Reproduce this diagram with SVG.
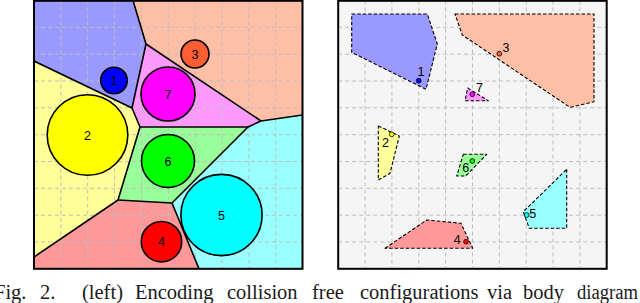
<svg xmlns="http://www.w3.org/2000/svg" width="640" height="303" viewBox="0 0 640 303">
<defs>
<style>
.grid{stroke:#bdbdbd;stroke-width:1;stroke-dasharray:4 3;fill:none}
.reg{stroke:#000;stroke-width:1.6;stroke-linejoin:round}
.circ{stroke:#000;stroke-width:1.6}
.lab{font-family:"Liberation Sans",Arial,sans-serif;font-size:12.5px;fill:#000}
.poly{stroke:#000;stroke-width:1.1;stroke-dasharray:3.5 2;stroke-linejoin:round}
.pt{stroke:#000;stroke-width:0.8}
.frame{fill:none;stroke:#000;stroke-width:2}
.cap{font-family:"Liberation Serif","Times New Roman",serif;font-size:20.5px;fill:#1a1a1a}
</style>
<clipPath id="clipL"><rect x="34" y="0.5" width="268.5" height="268.3"/></clipPath>
</defs>
<rect width="640" height="303" fill="#fff"/>

<!-- LEFT PANEL -->
<g id="left-panel">
<g id="regions-fill" clip-path="url(#clipL)">
<polygon fill="#9999ff" points="34,0.5 133,0.5 146,44 132,108 34,61"/>
<polygon fill="#ffbfa6" points="133,0.5 302.5,0.5 302.5,115 261,121 146,44"/>
<polygon fill="#ff99ff" points="146,44 261,121 248,127 140,127 132,108"/>
<polygon fill="#ffff99" points="34,61 132,108 140,127 118,200 34,257"/>
<polygon fill="#99ff99" points="140,127 248,127 172,203 118,200"/>
<polygon fill="#99ffff" points="248,127 261,121 302.5,115 302.5,268.8 199,268.8 172,203"/>
<polygon fill="#ff9999" points="34,257 118,200 172,203 199,268.8 34,268.8"/>
</g>
<g id="grid-left" class="grid">
<path d="M60.9,0.5V268.8M87.7,0.5V268.8M114.6,0.5V268.8M141.4,0.5V268.8M168.3,0.5V268.8M195.1,0.5V268.8M222,0.5V268.8M248.8,0.5V268.8M275.7,0.5V268.8"/>
<path d="M34,27.3H302.5M34,54.2H302.5M34,81H302.5M34,107.8H302.5M34,134.7H302.5M34,161.5H302.5M34,188.3H302.5M34,215.2H302.5M34,242H302.5"/>
</g>
<g id="region-boundaries" fill="none" class="reg" clip-path="url(#clipL)">
<polyline points="133,0.5 146,44 132,108 34,61"/>
<polyline points="146,44 261,121 302.5,115"/>
<polyline points="132,108 140,127 248,127 261,121"/>
<polyline points="140,127 118,200 34,257"/>
<polyline points="248,127 172,203 118,200"/>
<polyline points="172,203 199,268.8"/>
</g>
<g id="c1"><circle class="circ" cx="114" cy="80.5" r="13.3" fill="#0000ff"/><text class="lab" x="114" y="85" text-anchor="middle">1</text></g>
<g id="c3"><circle class="circ" cx="195" cy="54" r="14" fill="#ff5e33"/><text class="lab" x="195" y="58.5" text-anchor="middle">3</text></g>
<g id="c7"><circle class="circ" cx="168" cy="94" r="27" fill="#ff00ff"/><text class="lab" x="168" y="98.5" text-anchor="middle">7</text></g>
<g id="c2"><circle class="circ" cx="87.5" cy="135" r="40.3" fill="#ffff00"/><text class="lab" x="87.5" y="139.5" text-anchor="middle">2</text></g>
<g id="c6"><circle class="circ" cx="168" cy="161" r="26.5" fill="#00ff00"/><text class="lab" x="168" y="165.5" text-anchor="middle">6</text></g>
<g id="c5"><circle class="circ" cx="221.5" cy="215" r="40.6" fill="#00ffff"/><text class="lab" x="221.5" y="219.5" text-anchor="middle">5</text></g>
<g id="c4"><circle class="circ" cx="161.5" cy="241.7" r="20.2" fill="#ff0000"/><text class="lab" x="161.5" y="246.2" text-anchor="middle">4</text></g>
<rect class="frame" x="34" y="0.8" width="268.5" height="268"/>
</g>

<!-- RIGHT PANEL -->
<g id="right-panel">
<rect x="338.2" y="0.8" width="268.5" height="268" fill="#f5f5f5"/>
<g id="grid-right" class="grid">
<path d="M365.1,0.5V268.8M391.9,0.5V268.8M418.8,0.5V268.8M445.6,0.5V268.8M472.5,0.5V268.8M499.3,0.5V268.8M526.2,0.5V268.8M553,0.5V268.8M579.9,0.5V268.8"/>
<path d="M338.2,27.3H606.7M338.2,54.2H606.7M338.2,81H606.7M338.2,107.8H606.7M338.2,134.7H606.7M338.2,161.5H606.7M338.2,188.3H606.7M338.2,215.2H606.7M338.2,242H606.7"/>
</g>
<g id="b1"><polygon class="poly" fill="#9999ff" points="351.7,14 427.3,14 437.3,44 426,89.3 351.7,52.3"/><circle class="pt" cx="418.7" cy="80.7" r="2.4" fill="#0000ff"/><text class="lab" x="417.5" y="76">1</text></g>
<g id="b3"><polygon class="poly" fill="#ffbfa6" points="455,14 594,14 594,101.7 570,107.3 462.3,35"/><circle class="pt" cx="499.3" cy="53.7" r="2.4" fill="#ff5e33"/><text class="lab" x="502.5" y="51.7">3</text></g>
<g id="b7"><polygon class="poly" fill="#ff99ff" points="467.7,88 488.3,100.8 465,100.8"/><circle class="pt" cx="472.3" cy="94.3" r="2.4" fill="#ff00ff"/><text class="lab" x="476" y="91.7">7</text></g>
<g id="b2"><polygon class="poly" fill="#ffff99" points="378.3,126 399.3,136 390,173.3 378.3,180"/><circle class="pt" cx="391.7" cy="134.3" r="2.4" fill="#ffff00"/><text class="lab" x="382" y="147">2</text></g>
<g id="b6"><polygon class="poly" fill="#99ff99" points="463.3,154.3 486.7,154.3 465.7,176 456.7,176"/><circle class="pt" cx="472.3" cy="161" r="2.4" fill="#00ff00"/><text class="lab" x="462.3" y="172.3">6</text></g>
<g id="b5"><polygon class="poly" fill="#99ffff" points="566.7,169.3 566.7,228.3 529.3,228.3 523.3,211.7"/><circle class="pt" cx="526.7" cy="215" r="2.4" fill="#00ffff"/><text class="lab" x="529.3" y="218.3">5</text></g>
<g id="b4"><polygon class="poly" fill="#ff9999" points="385,248.3 426.7,220 461,223.3 472.7,248.3"/><circle class="pt" cx="466" cy="241.7" r="2.4" fill="#ff0000"/><text class="lab" x="453.8" y="244.3">4</text></g>
<rect class="frame" x="338.2" y="0.8" width="268.5" height="268"/>
</g>

<!-- CAPTION -->
<text class="cap" y="299"><tspan x="-6">Fig.</tspan><tspan x="40">2.</tspan><tspan x="82">(left)</tspan><tspan x="135">Encoding</tspan><tspan x="227">collision</tspan><tspan x="312">free</tspan><tspan x="360">configurations</tspan><tspan x="487">via</tspan><tspan x="523">body</tspan><tspan x="577" textLength="61" lengthAdjust="spacingAndGlyphs">diagram</tspan></text>
</svg>
